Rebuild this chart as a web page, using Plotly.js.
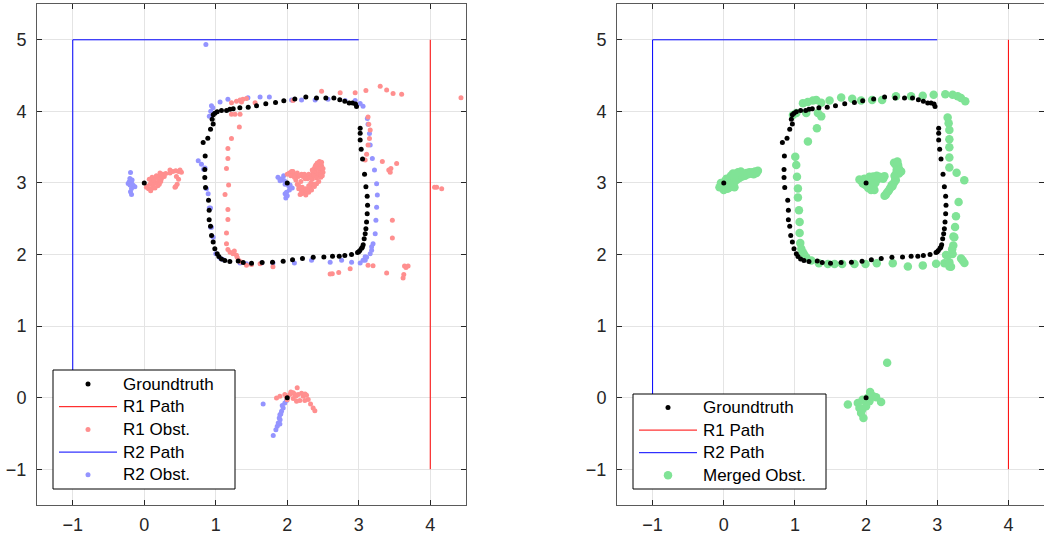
<!DOCTYPE html>
<html>
<head>
<meta charset="utf-8">
<script src="https://cdn.plot.ly/plotly-3.0.1.min.js"></script>
<style>html,body{margin:0;padding:0;background:#fff;}#chart{width:1044px;height:543px;}</style>
</head>
<body>
<div id="chart"></div>
<script>
// ---------------- DATA ----------------
const gtX = [0, 2, 2,
  0.824,0.852,0.847,0.847,0.857,0.899,0.908,0.908,0.927,0.941,0.964,0.987,1.02,1.043,1.08,1.127,1.197,1.314,1.384,1.5,1.649,1.794,1.943,2.074,2.213,2.363,2.512,2.633,2.727,2.805,2.899,2.983,3.015,3.039,3.062,3.076,3.09,3.1,3.109,3.118,3.123,3.118,3.1,3.081,3.053,3.034,3.02,3.02,3.02,
  2.969,2.955,2.913,2.866,2.805,2.735,2.652,2.54,2.409,2.26,2.106,1.952,1.836,1.7,1.57,1.454,1.337,1.244,1.197,1.151,1.08,1.02,0.987,0.964,0.95,0.964,0.927,0.889,3.0,3.05];
const gtY = [3, 3, 0,
  3.564,3.375,3.188,3.076,2.935,2.758,2.617,2.486,2.393,2.267,2.173,2.079,2.009,1.971,1.938,1.915,1.901,1.91,1.887,1.877,1.887,1.892,1.906,1.925,1.943,1.962,1.966,1.976,1.976,1.985,1.999,2.027,2.055,2.088,2.135,2.219,2.29,2.36,2.454,2.571,2.688,2.814,2.945,3.123,3.334,3.47,3.6,3.694,3.764,
  4.069,4.102,4.116,4.116,4.14,4.163,4.187,4.187,4.187,4.2,4.172,4.149,4.125,4.106,4.078,4.059,4.05,4.036,4.031,4.012,4.012,3.994,3.975,3.952,3.891,3.825,3.75,3.623,2.04,2.1];

const r1PathX = [4, 4];
const r1PathY = [-1, 5];
const r2PathX = [-1, -1, 3];
const r2PathY = [-1, 5, 5];

const r1ObsX = [
  0.04,0.06,0.08,0.1,0.12,0.14,0.16,0.18,0.2,0.22,0.24,0.26,0.28,0.3,0.1,0.13,0.17,0.21,0.25,0.07,0.11,0.19,0.23,0.15,0.09,0.36,0.4,0.44,0.48,0.52,0.46,0.44,0.48,0.03,0.13,0.22,0.36,0.5,0.43,0.45,
  2.03,2.06,2.09,2.12,2.15,2.05,2.12,2.14,2.16,2.2,2.24,2.28,2.32,2.36,2.41,2.38,2.18,2.22,2.26,2.3,2.34,2.2,2.28,2.36,2.38,2.4,2.42,2.44,2.46,2.45,2.48,2.5,2.4,2.43,2.47,
  2.0,2.08,2.1,2.14,2.17,2.19,2.21,2.23,2.26,2.3,2.33,2.35,2.37,2.39,2.41,2.44,2.46,2.48,2.42,2.5,2.47,2.43,2.39,2.35,2.25,2.31,2.24,2.16,2.2,2.26,2.3,2.34,2.38,2.44,2.49,
  1.897,1.966,2.036,2.083,2.139,2.153,2.223,2.27,2.293,2.326,2.362,2.386,2.083,2.13,2.176,2.246,1.99,1.85,2.05,2.1,2.2,2.25,2.12,2.0,
  1.22,1.34,1.33,1.22,1.17,1.17,1.15,1.18,1.13,1.17,1.17,1.15,1.15,1.27,
  1.17,1.2,1.24,1.29,1.26,1.3,1.32,1.35,1.43,1.5,1.62,1.80,
  2.6,2.63,2.72,2.88,3.13,3.2,3.39,3.64,3.69,3.66,3.63,3.62,
  3.13,3.14,3.16,3.15,3.13,3.11,3.09,3.33,3.53,3.42,3.45,3.44,3.47,3.47,
  4.06,4.09,4.16,4.43,
  1.22,1.29,1.34,1.38,1.43,1.36,1.55,2.08,2.48,2.74,2.95,3.1,3.3,3.39,3.48,3.6];
const r1ObsY = [
  2.95,2.92,2.98,3.02,2.94,3.05,3.0,3.08,3.03,3.1,3.06,3.12,3.09,3.13,2.92,2.99,3.1,2.98,3.1,3.05,3.08,2.96,3.02,2.93,2.89,3.14,3.16,3.17,3.16,3.15,2.98,2.95,3.05,2.94,3.04,3.14,3.18,3.18,2.94,3.09,
  3.14,3.16,3.12,3.1,3.09,3.1,3.04,2.98,2.92,2.88,2.86,2.88,2.93,2.97,2.99,2.95,2.84,3.09,3.1,3.12,3.1,3.12,3.06,3.15,3.2,3.12,3.22,3.27,3.18,3.3,3.24,3.15,3.25,3.1,3.08,
  3.12,3.16,3.08,3.14,3.1,3.02,2.94,2.9,2.92,2.96,3.0,3.05,3.1,3.17,3.07,3.14,3.22,3.29,3.28,3.2,3.12,3.2,3.23,3.18,3.06,3.07,3.12,2.96,2.85,2.83,2.87,2.9,2.98,3.02,3.1,
  0.02,0.043,0.043,0.067,0.137,0.043,0.02,0.033,-0.027,-0.088,-0.144,-0.182,-0.013,-0.05,-0.041,-0.041,0.005,-0.004,0.08,0.05,0.06,0.05,0.02,-0.03,
  3.96,3.96,3.78,3.62,3.48,3.34,3.20,2.97,2.84,2.63,2.49,2.30,2.15,3.96,
  2.07,2.03,2.01,1.99,2.05,1.96,1.92,1.9,1.85,1.86,1.87,1.83,
  1.726,1.73,1.75,1.80,1.85,1.844,1.74,1.84,1.84,1.82,1.72,1.67,
  3.92,3.82,3.74,3.62,3.53,3.40,3.32,3.30,3.27,3.18,3.2,3.15,2.48,2.23,
  2.94,2.94,2.92,4.19,
  4.12,4.14,4.16,4.17,4.18,4.13,4.12,4.15,4.28,4.26,4.26,4.29,4.35,4.3,4.25,4.24];

const r2ObsX = [
  -0.192,-0.201,-0.21,-0.225,-0.178,-0.155,-0.131,-0.178,-0.192,-0.178,-0.2,-0.17,
  1.87,1.9,1.93,1.96,1.95,1.97,2.02,2.04,2.07,2.03,1.99,1.97,1.98,2.0,1.9,
  1.663,1.966,1.943,1.92,1.897,1.888,1.874,1.897,1.86,1.841,1.804,1.99,1.93,1.9,1.91,
  0.755,0.8,0.83,0.85,0.87,0.894,0.91,0.927,0.93,0.94,0.964,1.0,1.06,1.1,1.34,1.43,1.64,1.8,2.1,2.34,2.6,2.76,2.9,3.09,3.11,3.16,3.18,3.2,3.23,3.24,3.25,3.26,3.25,3.22,3.19,3.16,3.15,3.13,3.12,3.06,3.02,3.09,3.06,3.02,3.18,
  0.94,1.06,1.17,1.45,1.62,1.75,2.06,2.2,2.39,2.57,2.81,2.95,0.96,0.93,0.91,
  0.862];
const r2ObsY = [
  3.147,3.063,3.016,2.993,2.997,2.969,2.946,2.922,2.875,2.838,2.97,3.04,
  3.08,3.05,3.06,3.03,3.1,2.98,2.96,2.97,2.93,2.9,2.87,2.85,2.79,2.82,3.03,
  -0.088,-0.074,-0.144,-0.19,-0.238,-0.285,-0.355,-0.369,-0.4,-0.448,-0.528,-0.04,-0.11,-0.31,-0.23,
  3.31,3.26,3.19,3.21,2.92,2.85,2.65,2.65,2.38,2.38,2.24,2.01,1.95,1.93,1.88,1.87,1.88,1.88,1.88,1.92,1.89,1.92,1.89,1.92,1.96,2.01,2.06,2.15,2.29,2.48,2.66,2.83,2.99,3.18,3.34,3.53,3.69,3.82,3.90,4.07,4.11,1.97,1.92,1.88,2.11,
  4.08,4.13,4.17,4.19,4.2,4.2,4.16,4.16,4.16,4.17,4.15,4.15,4.05,4.0,3.93,
  4.935];

const mergedX = [
  -0.06,-0.03,-0.04,0.0,0.02,0.04,0.06,0.08,0.1,0.13,0.15,0.18,0.21,0.25,0.28,0.32,0.36,0.4,0.44,0.48,0.42,0.15,0.12,0.05,0.09,0.0,
  0.03,0.07,0.11,0.14,0.18,0.22,0.26,0.3,0.34,0.38,0.46,0.2,0.24,0.16,
  1.907,1.977,2.047,2.117,2.188,2.258,2.117,2.07,1.954,2.02,2.08,2.393,2.44,2.463,2.493,2.417,2.37,2.323,2.276,2.26,2.4,2.45,2.43,
  1.93,1.96,1.99,2.03,2.07,2.1,2.13,2.16,2.2,2.24,2.05,2.1,2.15,2.29,2.31,2.34,2.36,2.39,2.41,2.42,2.44,2.46,2.41,2.44,2.47,
  2.296,1.744,2.057,2.024,2.141,2.211,1.884,1.907,1.93,1.963,1.944,2.0,2.047,1.95,2.1,
  1.113,1.253,1.37,1.487,1.65,1.805,1.93,2.085,2.225,2.42,2.632,2.796,2.95,3.113,3.216,3.287,3.334,3.394,1.18,1.3,
  0.972,1.02,1.159,1.323,1.37,1.309,1.183,
  1.005,1.019,1.029,1.042,1.042,1.057,1.066,1.066,1.075,1.09,1.11,1.13,1.159,1.23,
  1.337,1.463,1.557,1.664,1.837,1.992,2.15,2.375,2.587,2.797,2.984,3.1,3.17,3.193,3.171,
  3.124,3.146,3.216,3.209,3.225,3.227,3.24,3.25,3.263,3.3,3.335,3.357,3.382,3.146,3.16,3.17,3.17,3.17,3.17,3.17,3.272,3.38];
const mergedY = [
  2.94,2.97,3.0,2.96,3.03,3.06,3.0,3.05,3.1,3.13,3.08,3.12,3.1,3.13,3.12,3.14,3.15,3.15,3.16,3.17,3.12,2.94,2.97,2.92,2.99,2.9,
  2.95,2.93,2.95,3.0,3.04,3.07,3.09,3.1,3.12,3.13,3.14,3.15,3.16,3.12,
  3.048,3.06,3.086,3.076,3.086,3.095,2.9,2.945,2.992,2.96,3.02,3.282,3.216,3.132,3.16,3.038,2.954,2.9,2.83,2.82,3.1,3.25,3.18,
  3.03,3.0,2.97,2.93,2.9,2.95,3.0,3.05,3.07,3.06,3.05,3.09,3.1,2.86,2.88,2.93,2.97,3.0,3.05,3.12,3.15,3.2,3.26,3.3,3.18,
  0.488,-0.097,0.08,0.0,0.006,-0.06,-0.074,-0.145,-0.215,-0.285,-0.168,-0.12,-0.05,-0.03,0.02,
  4.115,4.153,4.12,4.153,4.195,4.176,4.153,4.16,4.16,4.21,4.21,4.219,4.233,4.24,4.233,4.21,4.186,4.14,4.13,4.16,
  3.95,3.976,3.976,3.976,3.93,3.765,3.578,
  3.366,3.249,3.085,2.921,2.795,2.617,2.453,2.3,2.159,2.08,2.03,2.0,1.963,1.915,
  1.877,1.868,1.868,1.868,1.868,1.868,1.877,1.877,1.833,1.848,1.872,1.877,1.891,1.83,1.833,
  1.993,1.985,2.008,2.075,2.125,2.25,2.242,2.383,2.533,2.734,1.945,1.915,1.882,3.914,3.834,3.741,3.61,3.497,3.356,3.216,3.141,3.038];

const leftLegendLabels = ['Groundtruth', 'R1 Path', 'R1 Obst.', 'R2 Path', 'R2 Obst.'];
const rightLegendLabels = ['Groundtruth', 'R1 Path', 'R2 Path', 'Merged Obst.'];

// ---------------- STYLE ----------------
const C_GT = '#000000', C_R1 = '#ff0000', C_R2 = '#0000ff';
const C_R1O = '#ff8f8f', C_R2O = '#9494ff', C_M = '#80e396';
const FONT = 'Liberation Sans, Arial, Helvetica, sans-serif';
const SZ_GT = 5, SZ_OBS = 5, SZ_M = 8.5;

function pts(x, y, name, color, size, xa, ya) {
  return {x: x, y: y, type: 'scatter', mode: 'markers', name: name, showlegend: false,
    marker: {color: color, size: size, line: {width: 0}}, xaxis: xa, yaxis: ya};
}
function line(x, y, name, color, xa, ya) {
  return {x: x, y: y, type: 'scatter', mode: 'lines', name: name, showlegend: false,
    line: {color: color, width: 1}, xaxis: xa, yaxis: ya};
}

// groundtruth drawn last (on top)
const traces = [
  pts(r2ObsX, r2ObsY, 'R2 Obst.', C_R2O, SZ_OBS, 'x', 'y'),
  line(r2PathX, r2PathY, 'R2 Path', C_R2, 'x', 'y'),
  pts(r1ObsX, r1ObsY, 'R1 Obst.', C_R1O, SZ_OBS, 'x', 'y'),
  line(r1PathX, r1PathY, 'R1 Path', C_R1, 'x', 'y'),
  pts(gtX, gtY, 'Groundtruth', C_GT, SZ_GT, 'x', 'y'),
  pts(mergedX, mergedY, 'Merged Obst.', C_M, SZ_M, 'x2', 'y2'),
  line(r2PathX, r2PathY, 'R2 Path', C_R2, 'x2', 'y2'),
  line(r1PathX, r1PathY, 'R1 Path', C_R1, 'x2', 'y2'),
  pts(gtX, gtY, 'Groundtruth', C_GT, SZ_GT, 'x2', 'y2')
];

// ---------------- LEGEND BOXES (MATLAB style) ----------------
const W = 1044, T = 4, PH = 501; // page width, top margin, plot height
const px2x = p => p / W;
const px2y = p => (T + PH - p) / PH;
const symbolOf = {
  'Groundtruth': {kind: 'dot', color: C_GT, size: SZ_GT},
  'R1 Path': {kind: 'line', color: C_R1},
  'R2 Path': {kind: 'line', color: C_R2},
  'R1 Obst.': {kind: 'dot', color: C_R1O, size: SZ_OBS},
  'R2 Obst.': {kind: 'dot', color: C_R2O, size: SZ_OBS},
  'Merged Obst.': {kind: 'dot', color: C_M, size: SZ_M}
};
const shapes = [], annotations = [];
function legendBox(labels, box) {
  shapes.push({type: 'rect', xref: 'paper', yref: 'paper', layer: 'above',
    x0: px2x(box.l), x1: px2x(box.r), y0: px2y(box.t), y1: px2y(box.b),
    fillcolor: '#ffffff', line: {color: '#000000', width: 1}});
  labels.forEach(function (lab, i) {
    const cy = box.firstRow + i * box.rowH;
    const s = symbolOf[lab];
    if (s.kind === 'line') {
      shapes.push({type: 'line', xref: 'paper', yref: 'paper', layer: 'above',
        x0: px2x(box.l + 6), x1: px2x(box.l + 64), y0: px2y(cy), y1: px2y(cy),
        line: {color: s.color, width: 1}});
    } else {
      const cx = box.l + 35, r = s.size / 2;
      shapes.push({type: 'circle', xref: 'paper', yref: 'paper', layer: 'above',
        xsizemode: 'pixel', ysizemode: 'pixel', xanchor: px2x(cx), yanchor: px2y(cy),
        x0: -r, x1: r, y0: -r, y1: r, fillcolor: s.color, line: {width: 0}});
    }
    annotations.push({xref: 'paper', yref: 'paper', x: px2x(box.l + 68), y: px2y(cy),
      xanchor: 'left', yanchor: 'middle', showarrow: false, text: lab,
      font: {family: FONT, size: 17, color: '#000000'}});
  });
}
legendBox(leftLegendLabels, {l: 53, r: 235, t: 370, b: 489, firstRow: 384, rowH: 22.7});
legendBox(rightLegendLabels, {l: 633, r: 826, t: 394, b: 489, firstRow: 407.5, rowH: 22.6});

function ax(domain, anchor, range, standoff) {
  return {domain: domain, anchor: anchor, range: range, dtick: 1, tick0: 0,
    showline: true, linecolor: '#5a5a5a', linewidth: 1, mirror: 'ticks',
    ticks: 'inside', ticklen: 5, tickcolor: '#262626', tickwidth: 1,
    ticklabelstandoff: standoff,
    showgrid: true, gridcolor: '#e4e4e4', gridwidth: 1, zeroline: false,
    tickfont: {family: FONT, size: 18, color: '#262626'}, fixedrange: true};
}

const layout = {
  width: 1044, height: 543,
  margin: {l: 0, r: 0, t: T, b: 38},
  paper_bgcolor: '#ffffff', plot_bgcolor: '#ffffff',
  showlegend: false,
  xaxis: ax([37/1044, 466/1044], 'y', [-1.5, 4.5], 3),
  yaxis: ax([0, 1], 'x', [-1.5, 5.5], 6),
  xaxis2: ax([617/1044, 1], 'y2', [-1.5, 4.5], 3),
  yaxis2: ax([0, 1], 'x2', [-1.5, 5.5], 6),
  shapes: shapes,
  annotations: annotations
};

Plotly.newPlot('chart', traces, layout, {staticPlot: true, displayModeBar: false});
</script>
</body>
</html>
